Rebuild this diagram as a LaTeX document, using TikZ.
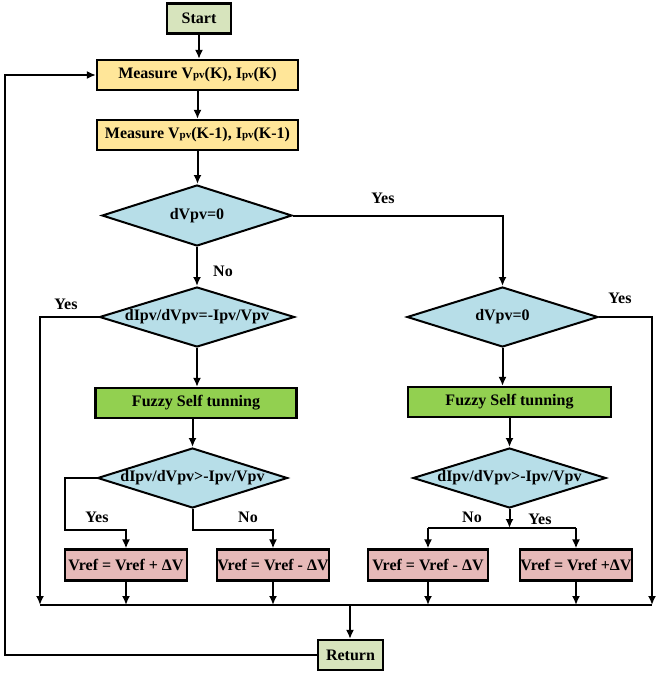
\documentclass[tikz,border=0pt]{standalone}
\usepackage{fontspec}
\setmainfont{Liberation Serif}
\usetikzlibrary{shapes.geometric,arrows.meta}
\definecolor{cstart}{HTML}{D7E4BD}
\definecolor{cmeas}{HTML}{FFE699}
\definecolor{cdia}{HTML}{B7DEE8}
\definecolor{cfuzzy}{HTML}{92D050}
\definecolor{cvref}{HTML}{E6B9B8}
\newcommand\sbpv{{\fontsize{11}{11}\selectfont pv}}
\tikzset{
  box/.style={draw=black, line width=2.2pt, inner sep=0pt, font=\fontsize{16}{18}\selectfont\bfseries},
  dia/.style={diamond, draw=black, line width=2pt, fill=cdia, inner sep=0pt, font=\fontsize{16}{18}\selectfont\bfseries},
  conn/.style={line width=2pt, draw=black},
  arr/.style={conn, -{Latex[length=9pt,width=8pt]}},
  lbl/.style={font=\fontsize{16}{18}\selectfont\bfseries, inner sep=0pt}
}
\begin{document}
\begin{tikzpicture}[x=1pt,y=-1pt]
\useasboundingbox (0,0) rectangle (660,675);
% boxes
\node[box, fill=cstart, minimum width=64pt, minimum height=30pt] (start) at (199,18.5) {Start};
\node[box, fill=cmeas, minimum width=201pt, minimum height=30pt] (m1) at (197.5,75) {Measure V\sbpv(K), I\sbpv(K)};
\node[box, fill=cmeas, minimum width=201pt, minimum height=30pt] (m2) at (197.5,135) {Measure V\sbpv(K-1), I\sbpv(K-1)};
\node[dia, minimum width=190pt, minimum height=61pt, label={[lbl]center:dVpv=0}] (d1) at (197,215.5) {};
\node[dia, minimum width=195pt, minimum height=60pt, label={[lbl]center:dIpv/dVpv=-Ipv/Vpv}] (d2) at (197,317) {};
\node[box, fill=cfuzzy, minimum width=201pt, minimum height=30pt] (f1) at (196,403) {Fuzzy Self tunning};
\node[dia, minimum width=190pt, minimum height=60pt, label={[lbl]center:dIpv/dVpv>-Ipv/Vpv}] (d3) at (192.5,478) {};
\node[box, fill=cvref, minimum width=122pt, minimum height=31pt] (v1) at (126,565) {Vref = Vref + ΔV};
\node[box, fill=cvref, minimum width=112pt, minimum height=31pt] (v2) at (273,565) {Vref = Vref - ΔV};
\node[dia, minimum width=191pt, minimum height=60pt, label={[lbl]center:dVpv=0}] (d4) at (502.5,317) {};
\node[box, fill=cfuzzy, minimum width=203pt, minimum height=30pt] (f2) at (509.5,402) {Fuzzy Self tunning};
\node[dia, minimum width=193pt, minimum height=60pt, label={[lbl]center:dIpv/dVpv>-Ipv/Vpv}] (d5) at (509.5,478) {};
\node[box, fill=cvref, minimum width=120pt, minimum height=31pt] (v3) at (428,565) {Vref = Vref - ΔV};
\node[box, fill=cvref, minimum width=112pt, minimum height=31pt] (v4) at (576,565) {Vref = Vref +ΔV};
\node[box, fill=cstart, minimum width=65pt, minimum height=30pt] (ret) at (350.5,655) {Return};
% coordinates
\coordinate (bl) at (40,605);
\coordinate (br) at (652,605);
\coordinate (bm) at (350,605);
\coordinate (sl) at (428,528);
\coordinate (sr) at (576,528);
\coordinate (sm) at (509.5,528);
% connectors
\draw[arr] (start.south) -- (start.south |- m1.north);
\draw[arr] (m1.south) -- (m1.south |- m2.north);
\draw[arr] (m2.south) -- (m2.south |- d1.north);
\draw[arr] (d1.south) -- (d1.south |- d2.north);
\draw[arr] (d1.east) -| (d4.north);
\draw[conn] (d2.west) -| (40,400);
\draw[arr] (40,400) -- (bl);
\draw[arr] (d2.south) -- (d2.south |- f1.north);
\draw[arr] (f1.south -| d3.north) -- (d3.north);
\draw[arr] (d3.west) -- (65,478) -- (65,530) -| (v1.north);
\draw[arr] (d3.south) |- (273,530) -- (v2.north);
\draw[conn] (d4.east) -| (652,400);
\draw[arr] (652,400) -- (br);
\draw[arr] (d4.south) -- (d4.south |- f2.north);
\draw[arr] (f2.south) -- (f2.south |- d5.north);
\draw[arr] (d5.south) -- (sm);
\draw[conn] (sl) -- (sr);
\draw[arr] (sl) -- (v3.north);
\draw[arr] (sr) -- (v4.north);
\draw[arr] (v1.south) -- (v1.south |- bl);
\draw[arr] (v2.south) -- (v2.south |- bl);
\draw[arr] (v3.south) -- (v3.south |- bl);
\draw[arr] (v4.south) -- (v4.south |- bl);
\draw[conn] (bl) -- (br);
\draw[arr] (bm) -- (bm |- ret.north);
\draw[arr] (ret.west) -- (5,655) -- (5,75) -- (m1.west);
% labels
\node[lbl] (yes1) at (383,198) {Yes};
\node[lbl] (no1) at (223,271) {No};
\node[lbl] (yes2) at (66,304) {Yes};
\node[lbl] (yes3) at (620,298) {Yes};
\node[lbl] (yes4) at (97,517) {Yes};
\node[lbl] (no2) at (248,517) {No};
\node[lbl] (no3) at (472,517) {No};
\node[lbl] (yes5) at (540,519) {Yes};
\end{tikzpicture}
\end{document}
